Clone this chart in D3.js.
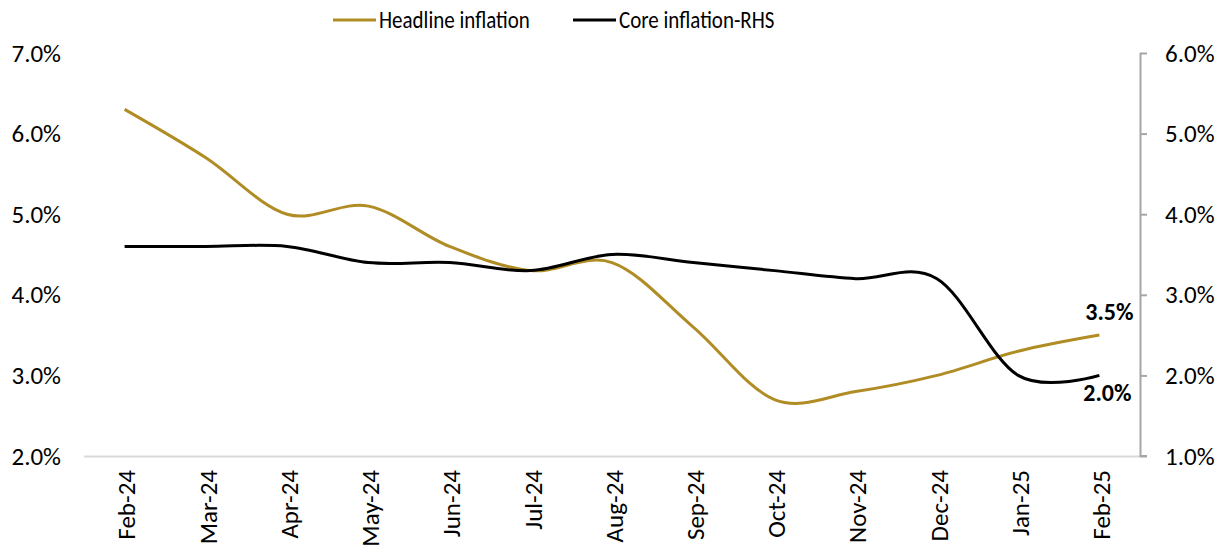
<!DOCTYPE html>
<meta charset="utf-8">
<style>
  body { margin: 0; background: #fff; }
  text { font-family: Carlito, "Liberation Sans", Arial, sans-serif; fill: #000; }
  .tick text { font-size: 25px; }
  .legend text { font-size: 21px; }
  .line { fill: none; stroke-width: 3px; stroke-linejoin: round; stroke-linecap: butt; }
  .lbl { font-size: 24px; font-weight: bold; }
</style>
<body>
<script src="https://d3js.org/d3.v7.min.js"></script>
<script>

  var months = ["Feb-24", "Mar-24", "Apr-24", "May-24", "Jun-24", "Jul-24", "Aug-24",
    "Sep-24", "Oct-24", "Nov-24", "Dec-24", "Jan-25", "Feb-25"];
  var headline = [6.3, 5.7, 5.0, 5.1, 4.6, 4.3, 4.4, 3.6, 2.7, 2.8, 3.0, 3.3, 3.5];
  var core = [3.6, 3.6, 3.6, 3.4, 3.4, 3.3, 3.5, 3.4, 3.3, 3.2, 3.2, 2.0, 2.0];
  var leftTicks = [2, 3, 4, 5, 6, 7];
  var rightTicks = [1, 2, 3, 4, 5, 6];

  var width = 1227,
    height = 548,
    plotL = 84, plotR = 1140, plotT = 53, plotB = 456;

  var gold = "#b08c25";

  var svg = d3.select("body").append("svg")
    .attr("width", width)
    .attr("height", height);

  var x = d3.scaleBand().domain(months).range([plotL, plotR]);
  var yL = d3.scaleLinear().domain([2, 7]).range([plotB, plotT]);
  var yR = d3.scaleLinear().domain([1, 6]).range([plotB, plotT]);

  var fmt = function (d) { return d3.format(".1f")(d) + "%"; };

  // left axis: labels only
  var gl = svg.append("g")
    .attr("transform", "translate(" + plotL + ",0)")
    .call(d3.axisLeft(yL).tickValues(leftTicks).tickFormat(fmt).tickSize(0).tickPadding(23));
  gl.select(".domain").remove();

  // bottom axis line + rotated labels
  svg.append("line")
    .attr("x1", plotL).attr("x2", plotR)
    .attr("y1", plotB + 0.5).attr("y2", plotB + 0.5)
    .attr("stroke", "#d9d9d9").attr("stroke-width", 2);

  svg.append("g").selectAll("text")
    .data(months)
    .enter().append("text")
    .attr("transform", function (d) { return "translate(" + (x(d) + x.bandwidth() / 2 + 2) + "," + (plotB + 14) + ") rotate(-90)"; })
    .attr("dy", "0.35em")
    .attr("text-anchor", "end")
    .style("font-size", "25px")
    .text(function (d) { return d; });

  // right axis
  var gr = svg.append("g")
    .attr("transform", "translate(" + plotR + ",0)")
    .call(d3.axisRight(yR).tickValues(rightTicks).tickFormat(fmt).tickSize(7).tickPadding(18));
  gr.selectAll(".domain").attr("stroke", "#a6a6a6").attr("stroke-width", 2)
    .attr("d", "M0.5," + plotT + "V" + plotB + "H7");
  gr.selectAll(".tick line").attr("stroke", "#a6a6a6").attr("stroke-width", 2);

  var cx = function (i) { return x(months[i]) + x.bandwidth() / 2; };

  var lineL = d3.line()
    .x(function (d, i) { return cx(i); })
    .y(function (d) { return yL(d); })
    .curve(d3.curveCatmullRom.alpha(0));
  var lineR = d3.line()
    .x(function (d, i) { return cx(i); })
    .y(function (d) { return yR(d); })
    .curve(d3.curveCatmullRom.alpha(0));

  svg.append("path").datum(headline).attr("class", "line").attr("stroke", gold).attr("d", lineL);
  svg.append("path").datum(core).attr("class", "line").attr("stroke", "#000").attr("d", lineR);

  // end labels
  var n = months.length - 1;
  svg.append("text").attr("class", "lbl")
    .attr("x", cx(n) + 10).attr("y", yL(headline[n]) - 15)
    .attr("text-anchor", "middle")
    .text(fmt(headline[n]));
  svg.append("text").attr("class", "lbl")
    .attr("x", cx(n) + 8).attr("y", yR(core[n]) + 26)
    .attr("text-anchor", "middle")
    .text(fmt(core[n]));

  // legend
  var legend = svg.append("g").attr("class", "legend");
  var items = [{ name: "Headline inflation", color: gold, x: 333 },
    { name: "Core inflation-RHS", color: "#000", x: 573 }];
  items.forEach(function (it) {
    legend.append("line")
      .attr("x1", it.x).attr("x2", it.x + 43)
      .attr("y1", 20).attr("y2", 20)
      .attr("stroke", it.color).attr("stroke-width", 3);
    legend.append("text")
      .attr("transform", "translate(" + (it.x + 46) + ",20) scale(1,1.15)")
      .attr("dy", "0.35em")
      .text(it.name);
  });

</script>
</body>
